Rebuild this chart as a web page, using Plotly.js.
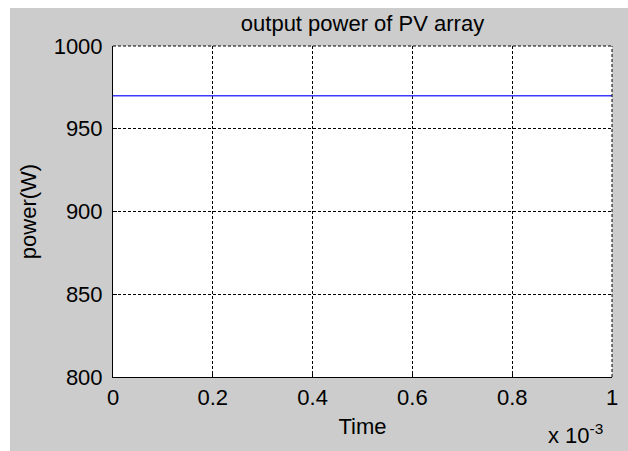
<!DOCTYPE html>
<html><head><meta charset="utf-8">
<script src="https://cdn.plot.ly/plotly-3.0.1.min.js"></script>
<style>html,body{margin:0;padding:0;background:#fff;overflow:hidden}#c{position:absolute;left:10px;top:8px;width:618px;height:443px}</style>
</head><body><div id="c"></div>
<script>
const time = [0, 0.0001, 0.0002, 0.0003, 0.0004, 0.0005, 0.0006, 0.0007, 0.0008, 0.0009, 0.001];
const power = [970, 970, 970, 970, 970, 970, 970, 970, 970, 970, 970];
const xTickVals = [0, 0.0002, 0.0004, 0.0006, 0.0008, 0.001];
const xTickText = ['0', '0.2', '0.4', '0.6', '0.8', '1'];
const yTickVals = [800, 850, 900, 950, 1000];

const font = {family: 'Liberation Sans, Arial, sans-serif', color: '#000'};
const data = [{x: time, y: power, type: 'scatter', mode: 'lines', line: {color: '#3c3cff', width: 1.5}, hoverinfo: 'skip'}];
const layout = {
  width: 618, height: 443,
  margin: {l: 103, r: 16, t: 38, b: 74},
  paper_bgcolor: '#cccccc', plot_bgcolor: '#ffffff',
  showlegend: false,
  font: Object.assign({size: 22}, font),
  title: {text: 'output power of PV array', font: Object.assign({size: 22}, font), x: 0.5, xref: 'paper', xanchor: 'center', y: 0.966, yref: 'container', yanchor: 'middle'},
  xaxis: {
    range: [0, 0.001], tickvals: xTickVals, ticktext: xTickText,
    showgrid: true, gridcolor: '#000', gridwidth: 1, griddash: '3px,2px',
    showline: true, linecolor: '#000', linewidth: 1, zeroline: false,
    ticks: 'inside', ticklen: 4, tickcolor: '#000', ticklabelstandoff: 1,
    tickfont: Object.assign({size: 22}, font),
    title: {text: 'Time', font: Object.assign({size: 22}, font), standoff: 9}
  },
  yaxis: {
    range: [800, 1000], tickvals: yTickVals,
    showgrid: true, gridcolor: '#000', gridwidth: 1, griddash: '3px,2px',
    showline: true, linecolor: '#000', linewidth: 1, zeroline: false,
    ticks: 'inside', ticklen: 4, tickcolor: '#000', ticklabelstandoff: 5,
    tickfont: Object.assign({size: 22}, font),
    title: {text: 'power(W)', font: Object.assign({size: 22}, font), standoff: 10}
  },
  shapes: [
    {type: 'line', xref: 'paper', yref: 'paper', x0: 0, x1: 1, y0: 1, y1: 1, line: {color: '#000', width: 1, dash: '3px,2px'}},
    {type: 'line', xref: 'paper', yref: 'paper', x0: 1, x1: 1, y0: 0, y1: 1, line: {color: '#000', width: 1, dash: '3px,2px'}}
  ],
  annotations: [
    {text: 'x 10<sup>-3</sup>', xref: 'paper', yref: 'paper', x: 0.985, xanchor: 'right', y: -0.2236, yanchor: 'bottom', yshift: 1, showarrow: false, font: Object.assign({size: 22}, font)}
  ]
};
Plotly.newPlot('c', data, layout, {displayModeBar: false, staticPlot: true});
</script></body></html>
